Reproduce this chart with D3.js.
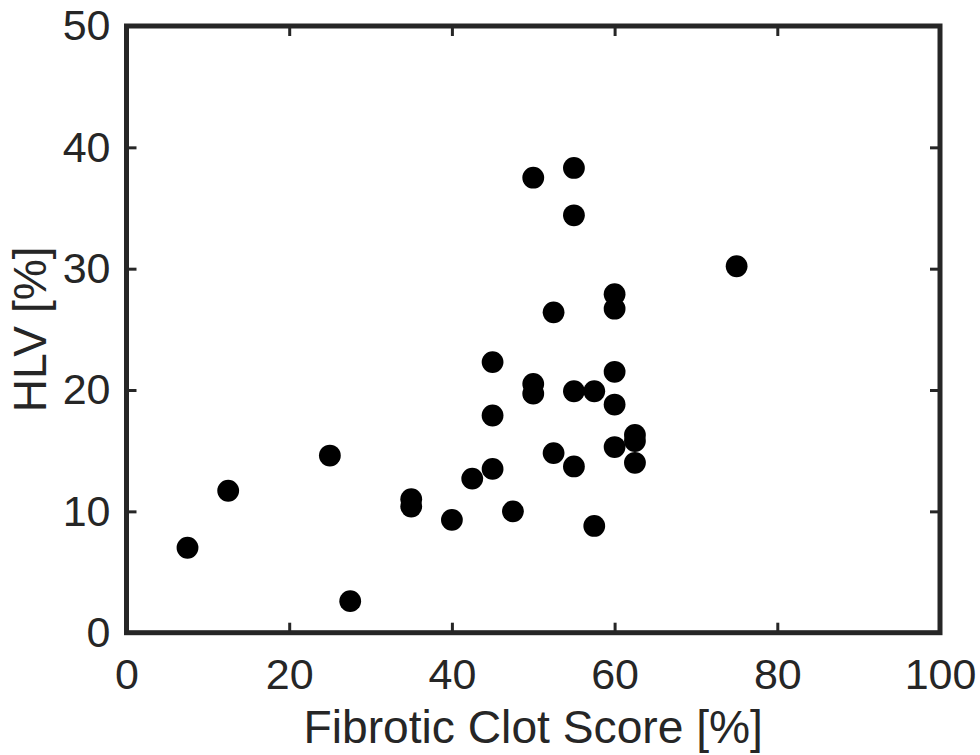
<!DOCTYPE html>
<html>
<head>
<meta charset="utf-8">
<script src="https://cdn.jsdelivr.net/npm/d3@7"></script>
<style>
  html, body { margin: 0; padding: 0; background: #fff; }
  svg { display: block; }
  text { font-family: "Liberation Sans", Arial, Helvetica, sans-serif; fill: #262626; }
</style>
</head>
<body>
<script>
// Fibrotic clot score vs. HLV, one point per sample
const clotScore = [7.5, 12.5, 25, 27.5, 35, 35, 40, 42.5, 45, 45, 45, 47.5, 50, 50, 50, 52.5,
                   52.5, 55, 55, 55, 55, 57.5, 57.5, 60, 60, 60, 60, 60, 62.5, 62.5, 62.5, 75];
const hlv = [7.0, 11.7, 14.6, 2.6, 11.0, 10.4, 9.3, 12.7, 22.3, 17.9, 13.5, 10.0, 37.5, 20.5, 19.7, 26.4,
             14.8, 38.3, 34.4, 19.9, 13.7, 19.9, 8.8, 27.9, 26.7, 21.5, 18.8, 15.3, 16.3, 15.8, 14.0, 30.2];
const xTicks = [0, 20, 40, 60, 80, 100];
const yTicks = [0, 10, 20, 30, 40, 50];
const xLabel = "Fibrotic Clot Score [%]";
const yLabel = "HLV [%]";

const W = 980, H = 755;
const plot = { left: 126.5, right: 940, top: 26, bottom: 632.7 };
const axisColor = "#262626";
const tickLen = 10;
const tickFont = 43, labelFont = 46.2;

const svg = d3.select("body").append("svg").attr("width", W).attr("height", H);

const x = d3.scaleLinear().domain([0, 100]).range([plot.left, plot.right]);
const y = d3.scaleLinear().domain([0, 50]).range([plot.bottom, plot.top]);

// points
svg.append("g").selectAll("circle")
  .data(clotScore.map((v, i) => [v, hlv[i]]))
  .join("circle")
  .attr("cx", d => x(d[0]))
  .attr("cy", d => y(d[1]))
  .attr("r", 10.9)
  .attr("fill", "#000");

// axes with inward ticks on all four sides
function styleAxis(g) {
  g.select(".domain").remove();
  g.selectAll(".tick line").attr("stroke", axisColor).attr("stroke-width", 3);
  g.selectAll(".tick text").attr("fill", axisColor)
    .style("font-size", tickFont + "px")
    .style("font-family", "'Liberation Sans', Arial, Helvetica, sans-serif");
}

svg.append("g")
  .attr("transform", `translate(0,${plot.bottom})`)
  .call(d3.axisBottom(x).tickValues(xTicks).tickSize(-tickLen).tickPadding(26).tickFormat(d3.format("d")))
  .call(styleAxis)
  .call(g => g.selectAll(".tick text").attr("dy", "0.71em"));

svg.append("g")
  .attr("transform", `translate(0,${plot.top})`)
  .call(d3.axisTop(x).tickValues(xTicks).tickSize(-tickLen).tickFormat(""))
  .call(styleAxis);

svg.append("g")
  .attr("transform", `translate(${plot.left},0)`)
  .call(d3.axisLeft(y).tickValues(yTicks).tickSize(-tickLen).tickPadding(16).tickFormat(d3.format("d")))
  .call(styleAxis);

svg.append("g")
  .attr("transform", `translate(${plot.right},0)`)
  .call(d3.axisRight(y).tickValues(yTicks).tickSize(-tickLen).tickFormat(""))
  .call(styleAxis);

// frame
svg.append("rect")
  .attr("x", plot.left).attr("y", plot.top)
  .attr("width", plot.right - plot.left).attr("height", plot.bottom - plot.top)
  .attr("fill", "none")
  .attr("stroke", axisColor)
  .attr("stroke-width", 5);

// axis titles
svg.append("text")
  .attr("x", (plot.left + plot.right) / 2)
  .attr("y", 743)
  .attr("text-anchor", "middle")
  .style("font-size", labelFont + "px")
  .text(xLabel);

svg.append("text")
  .attr("transform", `translate(46,${(plot.top + plot.bottom) / 2}) rotate(-90)`)
  .attr("text-anchor", "middle")
  .style("font-size", labelFont + "px")
  .text(yLabel);
</script>
</body>
</html>
